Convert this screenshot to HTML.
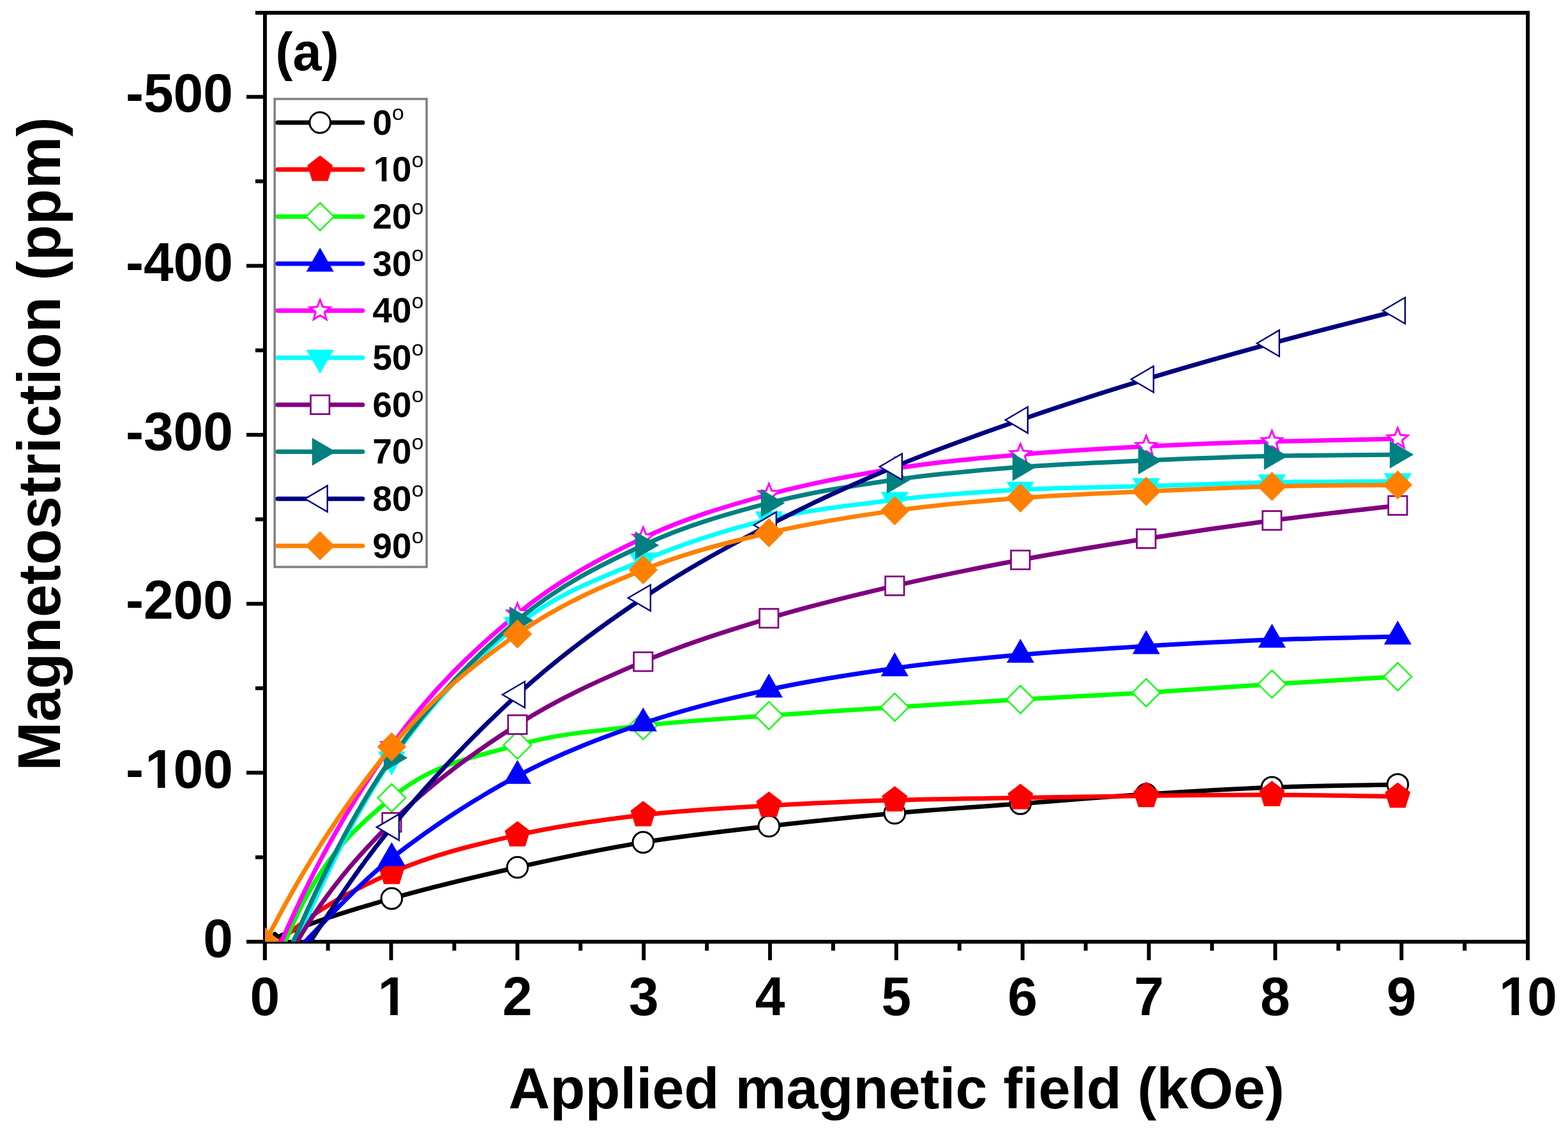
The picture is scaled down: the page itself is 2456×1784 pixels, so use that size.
<!DOCTYPE html>
<html><head><meta charset="utf-8"><title>Magnetostriction vs applied magnetic field</title>
<style>html,body{margin:0;padding:0;background:#fff;} svg{display:block;}</style>
</head><body>
<svg width="2456" height="1784" viewBox="0 0 2456 1784"><defs><clipPath id="pc"><rect x="415" y="20" width="1978" height="1455"/></clipPath></defs><rect x="0" y="0" width="2456" height="1784" fill="#fff"/><g stroke="#000" stroke-width="6" fill="none" stroke-linecap="butt"><line x1="400" y1="20" x2="2396" y2="20"/><line x1="415" y1="17" x2="415" y2="1504"/><line x1="2393" y1="17" x2="2393" y2="1504"/><line x1="386" y1="1475" x2="2396" y2="1475"/><line x1="386" y1="1475.0" x2="415" y2="1475.0"/><line x1="400" y1="1342.7" x2="415" y2="1342.7"/><line x1="386" y1="1210.3" x2="415" y2="1210.3"/><line x1="400" y1="1078.0" x2="415" y2="1078.0"/><line x1="386" y1="945.7" x2="415" y2="945.7"/><line x1="400" y1="813.4" x2="415" y2="813.4"/><line x1="386" y1="681.0" x2="415" y2="681.0"/><line x1="400" y1="548.7" x2="415" y2="548.7"/><line x1="386" y1="416.4" x2="415" y2="416.4"/><line x1="400" y1="284.0" x2="415" y2="284.0"/><line x1="386" y1="151.7" x2="415" y2="151.7"/><line x1="414.8" y1="1475" x2="414.8" y2="1504"/><line x1="513.7" y1="1475" x2="513.7" y2="1489"/><line x1="612.6" y1="1475" x2="612.6" y2="1504"/><line x1="711.5" y1="1475" x2="711.5" y2="1489"/><line x1="810.4" y1="1475" x2="810.4" y2="1504"/><line x1="909.3" y1="1475" x2="909.3" y2="1489"/><line x1="1008.3" y1="1475" x2="1008.3" y2="1504"/><line x1="1107.2" y1="1475" x2="1107.2" y2="1489"/><line x1="1206.1" y1="1475" x2="1206.1" y2="1504"/><line x1="1305.0" y1="1475" x2="1305.0" y2="1489"/><line x1="1403.9" y1="1475" x2="1403.9" y2="1504"/><line x1="1502.8" y1="1475" x2="1502.8" y2="1489"/><line x1="1601.7" y1="1475" x2="1601.7" y2="1504"/><line x1="1700.6" y1="1475" x2="1700.6" y2="1489"/><line x1="1799.5" y1="1475" x2="1799.5" y2="1504"/><line x1="1898.4" y1="1475" x2="1898.4" y2="1489"/><line x1="1997.4" y1="1475" x2="1997.4" y2="1504"/><line x1="2096.3" y1="1475" x2="2096.3" y2="1489"/><line x1="2195.2" y1="1475" x2="2195.2" y2="1504"/><line x1="2294.1" y1="1475" x2="2294.1" y2="1489"/><line x1="2393.0" y1="1475" x2="2393.0" y2="1504"/></g><g font-family="'Liberation Sans', Arial, sans-serif" font-weight="bold" font-size="84" fill="#000"><text transform="translate(365,1498.7) scale(1,1.02)" text-anchor="end">0</text><text transform="translate(365,1234.0) scale(1,1.02)" text-anchor="end">-<tspan dx="2.5">1</tspan><tspan dx="-2.5">0</tspan>0</text><text transform="translate(365,969.4) scale(1,1.02)" text-anchor="end">-200</text><text transform="translate(365,704.7) scale(1,1.02)" text-anchor="end">-300</text><text transform="translate(365,440.1) scale(1,1.02)" text-anchor="end">-400</text><text transform="translate(365,175.4) scale(1,1.02)" text-anchor="end">-500</text><text transform="translate(414.8,1589.8) scale(1,1.02)" text-anchor="middle">0</text><text transform="translate(612.6,1589.8) scale(1,1.02)" text-anchor="middle"><tspan dx="2.5">1</tspan></text><text transform="translate(810.4,1589.8) scale(1,1.02)" text-anchor="middle">2</text><text transform="translate(1008.3,1589.8) scale(1,1.02)" text-anchor="middle">3</text><text transform="translate(1206.1,1589.8) scale(1,1.02)" text-anchor="middle">4</text><text transform="translate(1403.9,1589.8) scale(1,1.02)" text-anchor="middle">5</text><text transform="translate(1601.7,1589.8) scale(1,1.02)" text-anchor="middle">6</text><text transform="translate(1799.5,1589.8) scale(1,1.02)" text-anchor="middle">7</text><text transform="translate(1997.4,1589.8) scale(1,1.02)" text-anchor="middle">8</text><text transform="translate(2195.2,1589.8) scale(1,1.02)" text-anchor="middle">9</text><text transform="translate(2391.0,1589.8) scale(1,1.02)" text-anchor="middle"><tspan dx="2.5">1</tspan><tspan dx="-2.5">0</tspan></text></g><text x="796.5" y="1736" font-family="'Liberation Sans', Arial, sans-serif" font-weight="bold" font-size="90" fill="#000">Applied magnetic field (kOe)</text><text transform="translate(93.5,1207.4) rotate(-90) scale(1,1.03)" font-family="'Liberation Sans', Arial, sans-serif" font-weight="bold" font-size="92.2" fill="#000">Magnetostriction (ppm)</text><text x="431.4" y="109.5" textLength="99.3" lengthAdjust="spacingAndGlyphs" font-family="'Liberation Sans', Arial, sans-serif" font-weight="bold" font-size="84" fill="#000">(a)</text><g clip-path="url(#pc)"><path d="M430.5,1463.0 L436.0,1467.2 L439.6,1465.6 L443.2,1464.1 L446.9,1462.6 L450.5,1461.1 L454.1,1459.6 L457.7,1458.1 L461.4,1456.7 L465.0,1455.2 L468.6,1453.8 L472.2,1452.4 L475.8,1451.1 L479.5,1449.7 L483.1,1448.4 L486.7,1447.1 L490.3,1445.7 L494.0,1444.5 L497.6,1443.2 L501.2,1441.9 L504.8,1440.7 L508.4,1439.4 L512.1,1438.2 L515.7,1437.0 L519.3,1435.8 L522.9,1434.6 L526.6,1433.4 L530.2,1432.2 L533.8,1431.1 L537.4,1429.9 L541.1,1428.8 L544.7,1427.7 L548.3,1426.5 L551.9,1425.4 L555.5,1424.3 L559.2,1423.2 L562.8,1422.1 L566.4,1421.0 L570.0,1420.0 L573.7,1418.9 L577.3,1417.8 L580.9,1416.8 L584.5,1415.7 L588.1,1414.6 L591.8,1413.6 L595.4,1412.5 L599.0,1411.5 L602.6,1410.4 L606.3,1409.4 L609.9,1408.3 L613.5,1407.3 C679.2,1388.4 744.8,1373.2 810.5,1358.5 C876.1,1343.8 941.8,1330.2 1007.4,1319.4 C1073.1,1308.7 1138.8,1301.6 1204.4,1294.0 C1270.1,1286.4 1335.7,1279.6 1401.4,1273.7 C1467.0,1267.8 1532.7,1263.8 1598.3,1258.8 C1664.0,1253.8 1729.7,1248.3 1795.3,1244.0 C1861.0,1239.7 1926.6,1235.8 1992.3,1233.2 C2057.9,1230.7 2123.6,1230.2 2189.3,1228.7" fill="none" stroke="#000000" stroke-width="7.0" stroke-linejoin="round" stroke-linecap="round"/><circle cx="613.5" cy="1407.3" r="16.3" fill="#fff" stroke="#000000" stroke-width="3.0"/><circle cx="810.5" cy="1358.5" r="16.3" fill="#fff" stroke="#000000" stroke-width="3.0"/><circle cx="1007.4" cy="1319.4" r="16.3" fill="#fff" stroke="#000000" stroke-width="3.0"/><circle cx="1204.4" cy="1294.0" r="16.3" fill="#fff" stroke="#000000" stroke-width="3.0"/><circle cx="1401.4" cy="1273.7" r="16.3" fill="#fff" stroke="#000000" stroke-width="3.0"/><circle cx="1598.3" cy="1258.8" r="16.3" fill="#fff" stroke="#000000" stroke-width="3.0"/><circle cx="1795.3" cy="1244.0" r="16.3" fill="#fff" stroke="#000000" stroke-width="3.0"/><circle cx="1992.3" cy="1233.2" r="16.3" fill="#fff" stroke="#000000" stroke-width="3.0"/><circle cx="2189.3" cy="1228.7" r="16.3" fill="#fff" stroke="#000000" stroke-width="3.0"/><path d="M429.0,1482.5 L432.8,1479.0 L436.5,1475.6 L440.3,1472.3 L444.1,1469.1 L447.8,1465.9 L451.6,1462.7 L455.4,1459.6 L459.1,1456.6 L462.9,1453.6 L466.7,1450.7 L470.4,1447.8 L474.2,1445.0 L477.9,1442.3 L481.7,1439.5 L485.5,1436.9 L489.2,1434.3 L493.0,1431.7 L496.8,1429.2 L500.5,1426.7 L504.3,1424.2 L508.1,1421.8 L511.8,1419.5 L515.6,1417.1 L519.4,1414.8 L523.1,1412.6 L526.9,1410.4 L530.7,1408.2 L534.4,1406.1 L538.2,1404.0 L542.0,1401.9 L545.7,1399.8 L549.5,1397.8 L553.3,1395.8 L557.0,1393.8 L560.8,1391.9 L564.6,1390.0 L568.3,1388.1 L572.1,1386.2 L575.8,1384.4 L579.6,1382.6 L583.4,1380.8 L587.1,1379.0 L590.9,1377.2 L594.7,1375.5 L598.4,1373.7 L602.2,1372.0 L606.0,1370.3 L609.7,1368.6 L613.5,1366.9 C679.2,1337.5 744.8,1323.1 810.5,1308.0 C876.1,1292.9 941.8,1284.2 1007.4,1276.5 C1073.1,1268.8 1138.8,1265.7 1204.4,1261.8 C1270.1,1257.9 1335.7,1255.3 1401.4,1253.3 C1467.0,1251.3 1532.7,1250.7 1598.3,1249.6 C1664.0,1248.4 1729.7,1247.2 1795.3,1246.4 C1861.0,1245.6 1926.6,1244.8 1992.3,1245.0 C2057.9,1245.2 2123.6,1246.7 2189.3,1247.5" fill="none" stroke="#ff0000" stroke-width="7.0" stroke-linejoin="round" stroke-linecap="round"/><polygon points="613.5,1344.9 633.4,1360.1 625.8,1384.7 601.2,1384.7 593.6,1360.1" fill="#ff0000"/><polygon points="810.5,1286.0 830.3,1301.2 822.8,1325.8 798.2,1325.8 790.6,1301.2" fill="#ff0000"/><polygon points="1007.4,1254.5 1027.3,1269.7 1019.7,1294.3 995.2,1294.3 987.6,1269.7" fill="#ff0000"/><polygon points="1204.4,1239.8 1224.3,1255.0 1216.7,1279.6 1192.1,1279.6 1184.5,1255.0" fill="#ff0000"/><polygon points="1401.4,1231.3 1421.3,1246.5 1413.7,1271.1 1389.1,1271.1 1381.5,1246.5" fill="#ff0000"/><polygon points="1598.3,1227.6 1618.2,1242.8 1610.6,1267.4 1586.1,1267.4 1578.5,1242.8" fill="#ff0000"/><polygon points="1795.3,1224.4 1815.2,1239.6 1807.6,1264.2 1783.0,1264.2 1775.4,1239.6" fill="#ff0000"/><polygon points="1992.3,1223.0 2012.2,1238.2 2004.6,1262.8 1980.0,1262.8 1972.4,1238.2" fill="#ff0000"/><polygon points="2189.3,1225.5 2209.1,1240.7 2201.5,1265.3 2177.0,1265.3 2169.4,1240.7" fill="#ff0000"/><path d="M438.0,1496.5 L441.6,1487.4 L445.2,1478.5 L448.7,1469.9 L452.3,1461.5 L455.9,1453.3 L459.5,1445.4 L463.1,1437.7 L466.7,1430.3 L470.2,1423.0 L473.8,1416.0 L477.4,1409.2 L481.0,1402.6 L484.6,1396.2 L488.1,1389.9 L491.7,1383.9 L495.3,1378.1 L498.9,1372.4 L502.5,1366.9 L506.1,1361.5 L509.6,1356.3 L513.2,1351.3 L516.8,1346.4 L520.4,1341.7 L524.0,1337.1 L527.5,1332.6 L531.1,1328.2 L534.7,1324.0 L538.3,1319.9 L541.9,1315.8 L545.4,1311.9 L549.0,1308.1 L552.6,1304.4 L556.2,1300.8 L559.8,1297.2 L563.4,1293.7 L566.9,1290.3 L570.5,1287.0 L574.1,1283.7 L577.7,1280.4 L581.3,1277.2 L584.8,1274.1 L588.4,1271.0 L592.0,1267.9 L595.6,1264.8 L599.2,1261.8 L602.8,1258.8 L606.3,1255.7 L609.9,1252.7 L613.5,1249.7 C679.2,1194.2 744.8,1185.9 810.5,1167.0 C876.1,1148.1 941.8,1144.2 1007.4,1136.5 C1073.1,1128.8 1138.8,1125.6 1204.4,1120.8 C1270.1,1116.0 1335.7,1111.9 1401.4,1107.7 C1467.0,1103.5 1532.7,1099.4 1598.3,1095.6 C1664.0,1091.8 1729.7,1088.9 1795.3,1084.9 C1861.0,1080.9 1926.6,1075.7 1992.3,1071.5 C2057.9,1067.3 2123.6,1063.7 2189.3,1059.8" fill="none" stroke="#00ff00" stroke-width="7.0" stroke-linejoin="round" stroke-linecap="round"/><polygon points="613.5,1228.0 635.2,1249.7 613.5,1271.4 591.8,1249.7" fill="#fff" stroke="#00ff00" stroke-width="2.3"/><polygon points="810.5,1145.3 832.2,1167.0 810.5,1188.7 788.8,1167.0" fill="#fff" stroke="#00ff00" stroke-width="2.3"/><polygon points="1007.4,1114.8 1029.1,1136.5 1007.4,1158.2 985.7,1136.5" fill="#fff" stroke="#00ff00" stroke-width="2.3"/><polygon points="1204.4,1099.1 1226.1,1120.8 1204.4,1142.5 1182.7,1120.8" fill="#fff" stroke="#00ff00" stroke-width="2.3"/><polygon points="1401.4,1086.0 1423.1,1107.7 1401.4,1129.4 1379.7,1107.7" fill="#fff" stroke="#00ff00" stroke-width="2.3"/><polygon points="1598.3,1073.9 1620.0,1095.6 1598.3,1117.3 1576.6,1095.6" fill="#fff" stroke="#00ff00" stroke-width="2.3"/><polygon points="1795.3,1063.2 1817.0,1084.9 1795.3,1106.6 1773.6,1084.9" fill="#fff" stroke="#00ff00" stroke-width="2.3"/><polygon points="1992.3,1049.8 2014.0,1071.5 1992.3,1093.2 1970.6,1071.5" fill="#fff" stroke="#00ff00" stroke-width="2.3"/><polygon points="2189.3,1038.1 2211.0,1059.8 2189.3,1081.5 2167.6,1059.8" fill="#fff" stroke="#00ff00" stroke-width="2.3"/><path d="M470.0,1483.4 L472.9,1480.4 L475.9,1477.3 L478.8,1474.2 L481.7,1471.1 L484.6,1468.0 L487.6,1465.0 L490.5,1461.9 L493.4,1458.8 L496.4,1455.7 L499.3,1452.7 L502.2,1449.6 L505.1,1446.5 L508.1,1443.5 L511.0,1440.4 L513.9,1437.4 L516.9,1434.3 L519.8,1431.3 L522.7,1428.3 L525.6,1425.3 L528.6,1422.3 L531.5,1419.3 L534.4,1416.3 L537.4,1413.4 L540.3,1410.4 L543.2,1407.5 L546.1,1404.6 L549.1,1401.7 L552.0,1398.8 L554.9,1396.0 L557.9,1393.1 L560.8,1390.3 L563.7,1387.5 L566.6,1384.8 L569.6,1382.0 L572.5,1379.3 L575.4,1376.6 L578.4,1373.9 L581.3,1371.3 L584.2,1368.6 L587.1,1366.1 L590.1,1363.5 L593.0,1361.0 L595.9,1358.4 L598.9,1356.0 L601.8,1353.5 L604.7,1351.1 L607.6,1348.7 L610.6,1346.4 L613.5,1344.1 C679.2,1292.8 744.8,1250.5 810.5,1215.3 C876.1,1180.1 941.8,1155.5 1007.4,1133.0 C1073.1,1110.5 1138.8,1094.5 1204.4,1080.1 C1270.1,1065.7 1335.7,1055.8 1401.4,1046.7 C1467.0,1037.6 1532.7,1031.4 1598.3,1025.6 C1664.0,1019.8 1729.7,1015.9 1795.3,1012.0 C1861.0,1008.1 1926.6,1004.6 1992.3,1002.1 C2057.9,999.6 2123.6,998.8 2189.3,997.1" fill="none" stroke="#0000ff" stroke-width="7.0" stroke-linejoin="round" stroke-linecap="round"/><polygon points="613.5,1319.1 635.1,1356.6 591.9,1356.6" fill="#0000ff"/><polygon points="810.5,1190.3 832.1,1227.8 788.9,1227.8" fill="#0000ff"/><polygon points="1007.4,1108.0 1029.0,1145.5 985.8,1145.5" fill="#0000ff"/><polygon points="1204.4,1055.1 1226.0,1092.6 1182.8,1092.6" fill="#0000ff"/><polygon points="1401.4,1021.7 1423.0,1059.2 1379.8,1059.2" fill="#0000ff"/><polygon points="1598.3,1000.6 1619.9,1038.1 1576.8,1038.1" fill="#0000ff"/><polygon points="1795.3,987.0 1816.9,1024.5 1773.7,1024.5" fill="#0000ff"/><polygon points="1992.3,977.1 2013.9,1014.6 1970.7,1014.6" fill="#0000ff"/><polygon points="2189.3,972.1 2210.9,1009.6 2167.7,1009.6" fill="#0000ff"/><path d="M433.0,1493.0 L436.7,1484.3 L440.4,1475.8 L444.1,1467.4 L447.7,1459.1 L451.4,1450.8 L455.1,1442.7 L458.8,1434.7 L462.5,1426.7 L466.2,1418.9 L469.8,1411.2 L473.5,1403.5 L477.2,1395.9 L480.9,1388.5 L484.6,1381.1 L488.3,1373.8 L491.9,1366.5 L495.6,1359.4 L499.3,1352.3 L503.0,1345.4 L506.7,1338.5 L510.4,1331.7 L514.0,1324.9 L517.7,1318.3 L521.4,1311.7 L525.1,1305.2 L528.8,1298.7 L532.5,1292.4 L536.1,1286.1 L539.8,1279.8 L543.5,1273.7 L547.2,1267.6 L550.9,1261.5 L554.6,1255.6 L558.2,1249.6 L561.9,1243.8 L565.6,1238.0 L569.3,1232.3 L573.0,1226.6 L576.7,1221.0 L580.3,1215.4 L584.0,1209.9 L587.7,1204.4 L591.4,1199.0 L595.1,1193.6 L598.8,1188.3 L602.4,1183.0 L606.1,1177.8 L609.8,1172.6 L613.5,1167.5 C679.2,1076.2 744.8,1015.6 810.5,961.5 C876.1,907.4 941.8,873.9 1007.4,842.7 C1073.1,811.5 1138.8,792.6 1204.4,774.5 C1270.1,756.4 1335.7,744.4 1401.4,734.0 C1467.0,723.6 1532.7,717.8 1598.3,712.0 C1664.0,706.2 1729.7,702.6 1795.3,699.2 C1861.0,695.8 1926.6,693.6 1992.3,691.6 C2057.9,689.6 2123.6,688.7 2189.3,687.2" fill="none" stroke="#ff00ff" stroke-width="7.0" stroke-linejoin="round" stroke-linecap="round"/><polygon points="613.5,1150.7 617.8,1161.5 629.5,1162.3 620.5,1169.8 623.4,1181.1 613.5,1174.9 603.6,1181.1 606.5,1169.8 597.5,1162.3 609.2,1161.5" fill="#fff" stroke="#ff00ff" stroke-width="3" stroke-linejoin="miter" stroke-miterlimit="10"/><polygon points="810.5,944.7 814.8,955.5 826.4,956.3 817.5,963.8 820.3,975.1 810.5,968.9 800.6,975.1 803.4,963.8 794.5,956.3 806.1,955.5" fill="#fff" stroke="#ff00ff" stroke-width="3" stroke-linejoin="miter" stroke-miterlimit="10"/><polygon points="1007.4,825.9 1011.8,836.7 1023.4,837.5 1014.5,845.0 1017.3,856.3 1007.4,850.1 997.6,856.3 1000.4,845.0 991.5,837.5 1003.1,836.7" fill="#fff" stroke="#ff00ff" stroke-width="3" stroke-linejoin="miter" stroke-miterlimit="10"/><polygon points="1204.4,757.7 1208.8,768.5 1220.4,769.3 1211.4,776.8 1214.3,788.1 1204.4,781.9 1194.5,788.1 1197.4,776.8 1188.4,769.3 1200.1,768.5" fill="#fff" stroke="#ff00ff" stroke-width="3" stroke-linejoin="miter" stroke-miterlimit="10"/><polygon points="1401.4,717.2 1405.7,728.0 1417.4,728.8 1408.4,736.3 1411.3,747.6 1401.4,741.4 1391.5,747.6 1394.3,736.3 1385.4,728.8 1397.0,728.0" fill="#fff" stroke="#ff00ff" stroke-width="3" stroke-linejoin="miter" stroke-miterlimit="10"/><polygon points="1598.3,695.2 1602.7,706.0 1614.3,706.8 1605.4,714.3 1608.2,725.6 1598.3,719.4 1588.5,725.6 1591.3,714.3 1582.4,706.8 1594.0,706.0" fill="#fff" stroke="#ff00ff" stroke-width="3" stroke-linejoin="miter" stroke-miterlimit="10"/><polygon points="1795.3,682.4 1799.7,693.2 1811.3,694.0 1802.4,701.5 1805.2,712.8 1795.3,706.6 1785.4,712.8 1788.3,701.5 1779.3,694.0 1791.0,693.2" fill="#fff" stroke="#ff00ff" stroke-width="3" stroke-linejoin="miter" stroke-miterlimit="10"/><polygon points="1992.3,674.8 1996.6,685.6 2008.3,686.4 1999.3,693.9 2002.2,705.2 1992.3,699.0 1982.4,705.2 1985.3,693.9 1976.3,686.4 1987.9,685.6" fill="#fff" stroke="#ff00ff" stroke-width="3" stroke-linejoin="miter" stroke-miterlimit="10"/><polygon points="2189.3,670.4 2193.6,681.2 2205.2,682.0 2196.3,689.5 2199.1,700.8 2189.3,694.6 2179.4,700.8 2182.2,689.5 2173.3,682.0 2184.9,681.2" fill="#fff" stroke="#ff00ff" stroke-width="3" stroke-linejoin="miter" stroke-miterlimit="10"/><path d="M456.0,1493.7 L459.2,1486.3 L462.4,1478.9 L465.6,1471.6 L468.9,1464.3 L472.1,1457.0 L475.3,1449.8 L478.5,1442.6 L481.7,1435.5 L484.9,1428.4 L488.1,1421.4 L491.4,1414.3 L494.6,1407.4 L497.8,1400.5 L501.0,1393.6 L504.2,1386.7 L507.4,1380.0 L510.6,1373.2 L513.9,1366.5 L517.1,1359.9 L520.3,1353.3 L523.5,1346.8 L526.7,1340.3 L529.9,1333.9 L533.1,1327.5 L536.4,1321.2 L539.6,1315.0 L542.8,1308.8 L546.0,1302.7 L549.2,1296.6 L552.4,1290.6 L555.6,1284.6 L558.9,1278.8 L562.1,1272.9 L565.3,1267.2 L568.5,1261.5 L571.7,1255.9 L574.9,1250.3 L578.1,1244.9 L581.4,1239.5 L584.6,1234.1 L587.8,1228.9 L591.0,1223.7 L594.2,1218.6 L597.4,1213.5 L600.6,1208.6 L603.9,1203.7 L607.1,1198.9 L610.3,1194.1 L613.5,1189.5 C679.2,1095.5 744.8,1030.9 810.5,978.9 C876.1,926.9 941.8,905.2 1007.4,877.7 C1073.1,850.2 1138.8,829.4 1204.4,813.6 C1270.1,797.8 1335.7,790.8 1401.4,783.0 C1467.0,775.2 1532.7,770.6 1598.3,767.0 C1664.0,763.4 1729.7,763.3 1795.3,761.4 C1861.0,759.5 1926.6,756.7 1992.3,755.4 C2057.9,754.1 2123.6,754.3 2189.3,753.7" fill="none" stroke="#00ffff" stroke-width="7.0" stroke-linejoin="round" stroke-linecap="round"/><polygon points="613.5,1214.5 635.1,1177.0 591.9,1177.0" fill="#00ffff"/><polygon points="810.5,1003.9 832.1,966.4 788.9,966.4" fill="#00ffff"/><polygon points="1007.4,902.7 1029.0,865.2 985.8,865.2" fill="#00ffff"/><polygon points="1204.4,838.6 1226.0,801.1 1182.8,801.1" fill="#00ffff"/><polygon points="1401.4,808.0 1423.0,770.5 1379.8,770.5" fill="#00ffff"/><polygon points="1598.3,792.0 1619.9,754.5 1576.8,754.5" fill="#00ffff"/><polygon points="1795.3,786.4 1816.9,748.9 1773.7,748.9" fill="#00ffff"/><polygon points="1992.3,780.4 2013.9,742.9 1970.7,742.9" fill="#00ffff"/><polygon points="2189.3,778.7 2210.9,741.2 2167.7,741.2" fill="#00ffff"/><path d="M457.0,1489.5 L460.2,1483.9 L463.4,1478.4 L466.6,1472.9 L469.8,1467.6 L473.0,1462.3 L476.2,1457.1 L479.4,1451.9 L482.6,1446.9 L485.7,1441.9 L488.9,1437.0 L492.1,1432.2 L495.3,1427.4 L498.5,1422.7 L501.7,1418.1 L504.9,1413.5 L508.1,1409.1 L511.3,1404.6 L514.5,1400.3 L517.7,1396.0 L520.9,1391.7 L524.1,1387.6 L527.3,1383.4 L530.5,1379.4 L533.7,1375.3 L536.8,1371.4 L540.0,1367.5 L543.2,1363.6 L546.4,1359.8 L549.6,1356.0 L552.8,1352.3 L556.0,1348.6 L559.2,1345.0 L562.4,1341.4 L565.6,1337.8 L568.8,1334.3 L572.0,1330.8 L575.2,1327.4 L578.4,1323.9 L581.6,1320.6 L584.8,1317.2 L587.9,1313.9 L591.1,1310.6 L594.3,1307.3 L597.5,1304.0 L600.7,1300.8 L603.9,1297.6 L607.1,1294.4 L610.3,1291.3 L613.5,1288.1 C679.2,1223.5 744.8,1177.0 810.5,1135.0 C876.1,1093.0 941.8,1064.2 1007.4,1036.4 C1073.1,1008.6 1138.8,988.2 1204.4,968.4 C1270.1,948.6 1335.7,932.8 1401.4,917.6 C1467.0,902.4 1532.7,889.3 1598.3,877.0 C1664.0,864.7 1729.7,854.0 1795.3,843.7 C1861.0,833.4 1926.6,823.9 1992.3,815.2 C2057.9,806.5 2123.6,799.5 2189.3,791.7" fill="none" stroke="#800080" stroke-width="7.0" stroke-linejoin="round" stroke-linecap="round"/><rect x="598.8" y="1273.4" width="29.4" height="29.4" fill="#fff" stroke="#800080" stroke-width="2.7"/><rect x="795.8" y="1120.3" width="29.4" height="29.4" fill="#fff" stroke="#800080" stroke-width="2.7"/><rect x="992.7" y="1021.7" width="29.4" height="29.4" fill="#fff" stroke="#800080" stroke-width="2.7"/><rect x="1189.7" y="953.7" width="29.4" height="29.4" fill="#fff" stroke="#800080" stroke-width="2.7"/><rect x="1386.7" y="902.9" width="29.4" height="29.4" fill="#fff" stroke="#800080" stroke-width="2.7"/><rect x="1583.6" y="862.3" width="29.4" height="29.4" fill="#fff" stroke="#800080" stroke-width="2.7"/><rect x="1780.6" y="829.0" width="29.4" height="29.4" fill="#fff" stroke="#800080" stroke-width="2.7"/><rect x="1977.6" y="800.5" width="29.4" height="29.4" fill="#fff" stroke="#800080" stroke-width="2.7"/><rect x="2174.6" y="777.0" width="29.4" height="29.4" fill="#fff" stroke="#800080" stroke-width="2.7"/><path d="M451.0,1494.7 L454.3,1486.9 L457.6,1479.2 L460.9,1471.5 L464.3,1464.0 L467.6,1456.4 L470.9,1449.0 L474.2,1441.6 L477.5,1434.2 L480.8,1427.0 L484.2,1419.7 L487.5,1412.6 L490.8,1405.5 L494.1,1398.5 L497.4,1391.5 L500.7,1384.6 L504.1,1377.8 L507.4,1371.0 L510.7,1364.3 L514.0,1357.6 L517.3,1351.0 L520.6,1344.5 L524.0,1338.0 L527.3,1331.6 L530.6,1325.3 L533.9,1319.0 L537.2,1312.8 L540.5,1306.6 L543.9,1300.5 L547.2,1294.5 L550.5,1288.5 L553.8,1282.6 L557.1,1276.8 L560.4,1271.0 L563.8,1265.3 L567.1,1259.6 L570.4,1254.0 L573.7,1248.5 L577.0,1243.0 L580.3,1237.6 L583.7,1232.3 L587.0,1227.0 L590.3,1221.8 L593.6,1216.6 L596.9,1211.5 L600.2,1206.5 L603.6,1201.5 L606.9,1196.6 L610.2,1191.8 L613.5,1187.0 C679.2,1093.0 744.8,1027.3 810.5,971.8 C876.1,916.3 941.8,884.6 1007.4,854.0 C1073.1,823.4 1138.8,805.0 1204.4,787.9 C1270.1,770.8 1335.7,760.9 1401.4,751.5 C1467.0,742.1 1532.7,736.6 1598.3,731.6 C1664.0,726.6 1729.7,724.2 1795.3,721.3 C1861.0,718.4 1926.6,715.8 1992.3,714.3 C2057.9,712.8 2123.6,712.8 2189.3,712.0" fill="none" stroke="#008080" stroke-width="7.0" stroke-linejoin="round" stroke-linecap="round"/><polygon points="638.5,1187.0 601.0,1165.2 601.0,1208.8" fill="#008080"/><polygon points="835.5,971.8 798.0,950.0 798.0,993.6" fill="#008080"/><polygon points="1032.4,854.0 994.9,832.2 994.9,875.8" fill="#008080"/><polygon points="1229.4,787.9 1191.9,766.1 1191.9,809.7" fill="#008080"/><polygon points="1426.4,751.5 1388.9,729.7 1388.9,773.3" fill="#008080"/><polygon points="1623.3,731.6 1585.8,709.8 1585.8,753.4" fill="#008080"/><polygon points="1820.3,721.3 1782.8,699.5 1782.8,743.1" fill="#008080"/><polygon points="2017.3,714.3 1979.8,692.5 1979.8,736.1" fill="#008080"/><polygon points="2214.3,712.0 2176.8,690.2 2176.8,733.8" fill="#008080"/><path d="M478.0,1487.3 L480.8,1483.1 L483.5,1478.8 L486.3,1474.6 L489.1,1470.3 L491.8,1466.1 L494.6,1461.8 L497.4,1457.6 L500.1,1453.4 L502.9,1449.2 L505.7,1445.0 L508.4,1440.8 L511.2,1436.6 L513.9,1432.5 L516.7,1428.3 L519.5,1424.2 L522.2,1420.0 L525.0,1415.9 L527.8,1411.8 L530.5,1407.7 L533.3,1403.7 L536.1,1399.6 L538.8,1395.6 L541.6,1391.6 L544.4,1387.6 L547.1,1383.6 L549.9,1379.6 L552.7,1375.7 L555.4,1371.8 L558.2,1367.9 L561.0,1364.0 L563.7,1360.1 L566.5,1356.3 L569.3,1352.5 L572.0,1348.7 L574.8,1345.0 L577.6,1341.3 L580.3,1337.6 L583.1,1333.9 L585.8,1330.3 L588.6,1326.7 L591.4,1323.1 L594.1,1319.5 L596.9,1316.0 L599.7,1312.5 L602.4,1309.1 L605.2,1305.7 L608.0,1302.3 L610.7,1298.9 L613.5,1295.6 C679.2,1217.3 744.8,1147.8 810.5,1088.0 C876.1,1028.2 941.8,980.8 1007.4,936.5 C1073.1,892.2 1138.8,856.8 1204.4,822.5 C1270.1,788.2 1335.7,758.5 1401.4,731.0 C1467.0,703.6 1532.7,680.6 1598.3,657.8 C1664.0,635.0 1729.7,614.0 1795.3,594.0 C1861.0,574.0 1926.6,555.6 1992.3,537.7 C2057.9,519.8 2123.6,503.6 2189.3,486.5" fill="none" stroke="#000080" stroke-width="7.0" stroke-linejoin="round" stroke-linecap="round"/><polygon points="590.0,1295.6 625.0,1275.1 625.0,1316.1" fill="#fff" stroke="#000080" stroke-width="2.4"/><polygon points="787.0,1088.0 822.0,1067.5 822.0,1108.5" fill="#fff" stroke="#000080" stroke-width="2.4"/><polygon points="983.9,936.5 1018.9,916.0 1018.9,957.0" fill="#fff" stroke="#000080" stroke-width="2.4"/><polygon points="1180.9,822.5 1215.9,802.0 1215.9,843.0" fill="#fff" stroke="#000080" stroke-width="2.4"/><polygon points="1377.9,731.0 1412.9,710.5 1412.9,751.5" fill="#fff" stroke="#000080" stroke-width="2.4"/><polygon points="1574.8,657.8 1609.8,637.3 1609.8,678.3" fill="#fff" stroke="#000080" stroke-width="2.4"/><polygon points="1771.8,594.0 1806.8,573.5 1806.8,614.5" fill="#fff" stroke="#000080" stroke-width="2.4"/><polygon points="1968.8,537.7 2003.8,517.2 2003.8,558.2" fill="#fff" stroke="#000080" stroke-width="2.4"/><polygon points="2165.8,486.5 2200.8,466.0 2200.8,507.0" fill="#fff" stroke="#000080" stroke-width="2.4"/><path d="M407.0,1492.6 L411.2,1484.2 L415.4,1475.8 L419.6,1467.6 L423.9,1459.4 L428.1,1451.3 L432.3,1443.4 L436.5,1435.5 L440.7,1427.7 L444.9,1419.9 L449.1,1412.3 L453.4,1404.8 L457.6,1397.3 L461.8,1389.9 L466.0,1382.6 L470.2,1375.4 L474.4,1368.3 L478.6,1361.2 L482.9,1354.2 L487.1,1347.3 L491.3,1340.5 L495.5,1333.7 L499.7,1327.0 L503.9,1320.4 L508.1,1313.9 L512.4,1307.4 L516.6,1301.0 L520.8,1294.7 L525.0,1288.4 L529.2,1282.2 L533.4,1276.0 L537.6,1269.9 L541.9,1263.9 L546.1,1258.0 L550.3,1252.1 L554.5,1246.2 L558.7,1240.4 L562.9,1234.7 L567.1,1229.0 L571.4,1223.4 L575.6,1217.8 L579.8,1212.3 L584.0,1206.8 L588.2,1201.4 L592.4,1196.0 L596.6,1190.7 L600.9,1185.4 L605.1,1180.2 L609.3,1175.0 L613.5,1169.8 C679.2,1089.8 744.8,1039.2 810.5,993.0 C876.1,946.8 941.8,918.9 1007.4,892.5 C1073.1,866.1 1138.8,849.9 1204.4,834.5 C1270.1,819.1 1335.7,809.0 1401.4,799.9 C1467.0,790.8 1532.7,785.0 1598.3,780.0 C1664.0,775.0 1729.7,772.6 1795.3,769.6 C1861.0,766.6 1926.6,763.6 1992.3,761.9 C2057.9,760.2 2123.6,760.3 2189.3,759.5" fill="none" stroke="#ff8000" stroke-width="7.0" stroke-linejoin="round" stroke-linecap="round"/><polygon points="415.0,1452.2 437.8,1475.0 415.0,1497.8 392.2,1475.0" fill="#ff8000"/><polygon points="613.5,1147.0 636.3,1169.8 613.5,1192.6 590.7,1169.8" fill="#ff8000"/><polygon points="810.5,970.2 833.3,993.0 810.5,1015.8 787.7,993.0" fill="#ff8000"/><polygon points="1007.4,869.7 1030.2,892.5 1007.4,915.3 984.6,892.5" fill="#ff8000"/><polygon points="1204.4,811.7 1227.2,834.5 1204.4,857.3 1181.6,834.5" fill="#ff8000"/><polygon points="1401.4,777.1 1424.2,799.9 1401.4,822.7 1378.6,799.9" fill="#ff8000"/><polygon points="1598.3,757.2 1621.1,780.0 1598.3,802.8 1575.5,780.0" fill="#ff8000"/><polygon points="1795.3,746.8 1818.1,769.6 1795.3,792.4 1772.5,769.6" fill="#ff8000"/><polygon points="1992.3,739.1 2015.1,761.9 1992.3,784.7 1969.5,761.9" fill="#ff8000"/><polygon points="2189.3,736.7 2212.1,759.5 2189.3,782.3 2166.5,759.5" fill="#ff8000"/></g><rect x="430.2" y="155" width="238" height="733" fill="#fff" stroke="#808080" stroke-width="3.5"/><line x1="435" y1="192.0" x2="568" y2="192.0" stroke="#000000" stroke-width="7.0" stroke-linecap="round"/><circle cx="501.3" cy="192.0" r="16.3" fill="#fff" stroke="#000000" stroke-width="3.0"/><text x="583.5" y="210.8" font-family="'Liberation Sans', Arial, sans-serif" font-weight="bold" font-size="55" fill="#000">0<tspan font-weight="normal" font-size="34" dy="-22.5">o</tspan></text><line x1="435" y1="265.6" x2="568" y2="265.6" stroke="#ff0000" stroke-width="7.0" stroke-linecap="round"/><polygon points="501.3,243.6 521.2,258.9 513.6,283.4 489.0,283.4 481.4,258.9" fill="#ff0000"/><text x="583.5" y="284.4" font-family="'Liberation Sans', Arial, sans-serif" font-weight="bold" font-size="55" fill="#000"><tspan dx="1.6">1</tspan><tspan dx="-1.6">0</tspan><tspan font-weight="normal" font-size="34" dy="-22.5">o</tspan></text><line x1="435" y1="339.3" x2="568" y2="339.3" stroke="#00ff00" stroke-width="7.0" stroke-linecap="round"/><polygon points="501.3,317.6 523.0,339.3 501.3,361.0 479.6,339.3" fill="#fff" stroke="#00ff00" stroke-width="2.3"/><text x="583.5" y="358.1" font-family="'Liberation Sans', Arial, sans-serif" font-weight="bold" font-size="55" fill="#000">20<tspan font-weight="normal" font-size="34" dy="-22.5">o</tspan></text><line x1="435" y1="413.0" x2="568" y2="413.0" stroke="#0000ff" stroke-width="7.0" stroke-linecap="round"/><polygon points="501.3,388.0 522.9,425.5 479.7,425.5" fill="#0000ff"/><text x="583.5" y="431.8" font-family="'Liberation Sans', Arial, sans-serif" font-weight="bold" font-size="55" fill="#000">30<tspan font-weight="normal" font-size="34" dy="-22.5">o</tspan></text><line x1="435" y1="486.6" x2="568" y2="486.6" stroke="#ff00ff" stroke-width="7.0" stroke-linecap="round"/><polygon points="501.3,469.8 505.6,480.6 517.3,481.4 508.3,488.9 511.2,500.2 501.3,494.0 491.4,500.2 494.3,488.9 485.3,481.4 497.0,480.6" fill="#fff" stroke="#ff00ff" stroke-width="3" stroke-linejoin="miter" stroke-miterlimit="10"/><text x="583.5" y="505.4" font-family="'Liberation Sans', Arial, sans-serif" font-weight="bold" font-size="55" fill="#000">40<tspan font-weight="normal" font-size="34" dy="-22.5">o</tspan></text><line x1="435" y1="560.2" x2="568" y2="560.2" stroke="#00ffff" stroke-width="7.0" stroke-linecap="round"/><polygon points="501.3,585.2 522.9,547.8 479.7,547.8" fill="#00ffff"/><text x="583.5" y="579.0" font-family="'Liberation Sans', Arial, sans-serif" font-weight="bold" font-size="55" fill="#000">50<tspan font-weight="normal" font-size="34" dy="-22.5">o</tspan></text><line x1="435" y1="633.9" x2="568" y2="633.9" stroke="#800080" stroke-width="7.0" stroke-linecap="round"/><rect x="486.6" y="619.2" width="29.4" height="29.4" fill="#fff" stroke="#800080" stroke-width="2.7"/><text x="583.5" y="652.7" font-family="'Liberation Sans', Arial, sans-serif" font-weight="bold" font-size="55" fill="#000">60<tspan font-weight="normal" font-size="34" dy="-22.5">o</tspan></text><line x1="435" y1="707.6" x2="568" y2="707.6" stroke="#008080" stroke-width="7.0" stroke-linecap="round"/><polygon points="526.3,707.6 488.8,685.8 488.8,729.4" fill="#008080"/><text x="583.5" y="726.4" font-family="'Liberation Sans', Arial, sans-serif" font-weight="bold" font-size="55" fill="#000">70<tspan font-weight="normal" font-size="34" dy="-22.5">o</tspan></text><line x1="435" y1="781.2" x2="568" y2="781.2" stroke="#000080" stroke-width="7.0" stroke-linecap="round"/><polygon points="477.8,781.2 512.8,760.7 512.8,801.7" fill="#fff" stroke="#000080" stroke-width="2.4"/><text x="583.5" y="800.0" font-family="'Liberation Sans', Arial, sans-serif" font-weight="bold" font-size="55" fill="#000">80<tspan font-weight="normal" font-size="34" dy="-22.5">o</tspan></text><line x1="435" y1="854.9" x2="568" y2="854.9" stroke="#ff8000" stroke-width="7.0" stroke-linecap="round"/><polygon points="501.3,832.1 524.1,854.9 501.3,877.6 478.5,854.9" fill="#ff8000"/><text x="583.5" y="873.6" font-family="'Liberation Sans', Arial, sans-serif" font-weight="bold" font-size="55" fill="#000">90<tspan font-weight="normal" font-size="34" dy="-22.5">o</tspan></text><rect x="231.63" y="1223.93" width="15.26" height="10.97" fill="#fff"/><rect x="258.52" y="1223.93" width="14.20" height="10.97" fill="#fff"/><rect x="596.03" y="1579.73" width="15.26" height="10.97" fill="#fff"/><rect x="622.92" y="1579.73" width="14.20" height="10.97" fill="#fff"/><rect x="2352.32" y="1579.73" width="15.26" height="10.97" fill="#fff"/><rect x="2379.21" y="1579.73" width="14.20" height="10.97" fill="#fff"/><rect x="587.56" y="277.29" width="10.32" height="8.01" fill="#fff"/><rect x="605.53" y="277.29" width="9.62" height="8.01" fill="#fff"/></svg>
</body></html>
